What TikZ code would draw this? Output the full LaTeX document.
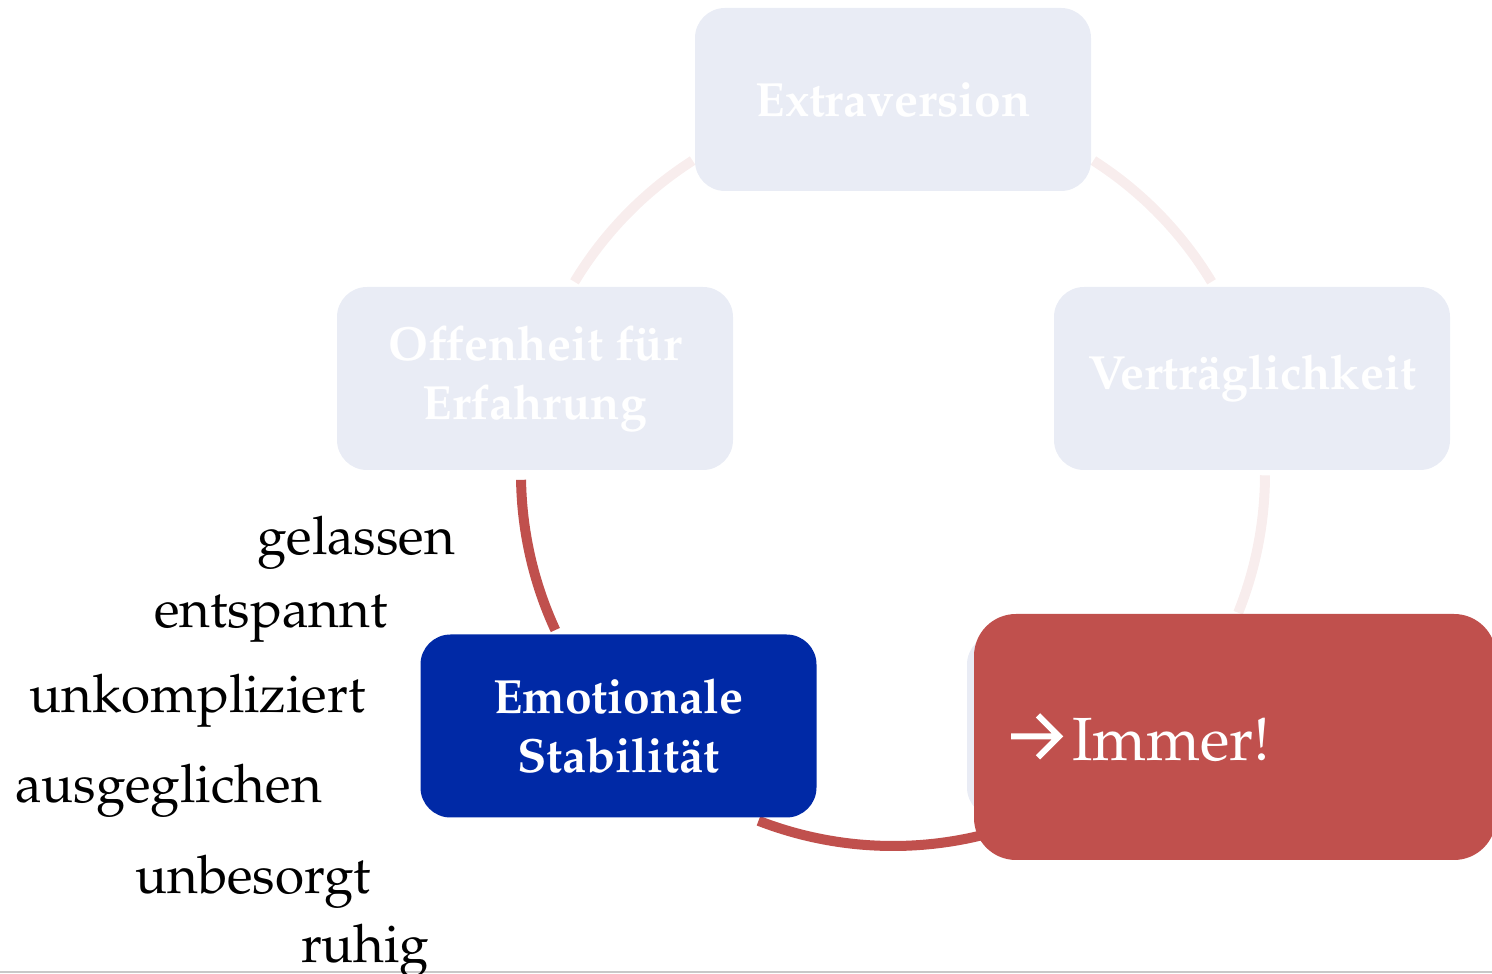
\documentclass[tikz,border=0pt]{standalone}
\usepackage{fontspec}
\IfFileExists{mathpazo.sty}{\usepackage[T1]{fontenc}\usepackage{mathpazo}}{\setmainfont{Liberation Serif}}
\definecolor{faintbox}{HTML}{E9ECF5}
\definecolor{faintarc}{HTML}{F8EDED}
\definecolor{redc}{HTML}{C0504D}
\definecolor{bluec}{HTML}{0029A6}
\definecolor{rulegray}{HTML}{C8C8C8}
\newcommand{\immerarrow}{\tikz[baseline=0pt, x=1pt, y=1pt, sharp corners]{\draw[white, sharp corners, line width=6pt, line join=miter] (0,24)--(48,24) (27,45)--(48,24)--(27,3);}}
\begin{document}
\begin{tikzpicture}[x=1pt,y=1pt,
  box/.style={rounded corners=30pt, minimum width=396pt, minimum height=183pt, inner sep=0pt, align=center, font=\fontsize{48}{59}\selectfont\bfseries, text=white},
  faint/.style={box, fill=faintbox},
  arcf/.style={faintarc, line width=10pt},
  arcr/.style={redc, line width=10pt},
  word/.style={anchor=base west, inner sep=0pt, font=\fontsize{53}{64}\selectfont, text=black}]
\useasboundingbox (0,0) rectangle (1492,974);
\clip (0,0) rectangle (1492,974);
\coordinate (c) at (893,500);
% connectors (arcs of the cycle)
\coordinate (e1) at ([shift={(c)}]122.6:372);
\draw[arcf] (e1) arc[start angle=122.6, end angle=148.9, radius=372pt];
\coordinate (e2) at ([shift={(c)}]57.4:372);
\draw[arcf] (e2) arc[start angle=57.4, end angle=31.1, radius=372pt];
\coordinate (e3) at ([shift={(c)}]-0.2:372);
\draw[arcf] (e3) arc[start angle=-0.2, end angle=-21.9, radius=372pt];
\coordinate (e4) at ([shift={(c)}]180.9:372);
\draw[arcr] (e4) arc[start angle=180.9, end angle=204.8, radius=372pt];
\coordinate (e5) at ([shift={(c)}]248.8:372);
\draw[arcr] (e5) arc[start angle=248.8, end angle=288, radius=372pt];
% nodes
\node[faint] (ext) at (893,874.5) {Extraversion};
\node[faint] (off) at (535,595.5) {Offenheit f\"ur\\Erfahrung};
\node[faint] (ver) at (1252,595.5) {Vertr\"aglichkeit};
\node[box, fill=bluec] (emo) at (618.5,248) {Emotionale\\Stabilit\"at};
\node[faint] (gew) at (1165,248) {};
\node[fill=redc, rounded corners=42pt, minimum width=522pt, minimum height=246pt,
      text width=454pt, inner xsep=34pt, inner ysep=0pt, align=left, text=white,
      font=\fontsize{61}{72}\selectfont] (imm) at (1235,237) {\immerarrow\hspace{10pt}Immer!};
% bottom rule
\draw[rulegray, line width=2pt] (0,2) -- (1492,2);
% adjectives
\node[word] (w1) at (257,419) {gelassen};
\node[word] (w2) at (154,346) {entspannt};
\node[word] (w3) at (29,261) {unkompliziert};
\node[word] (w4) at (15,171) {ausgeglichen};
\node[word] (w5) at (135,80) {unbesorgt};
\node[word] (w6) at (301,11) {ruhig};
\end{tikzpicture}
\end{document}
